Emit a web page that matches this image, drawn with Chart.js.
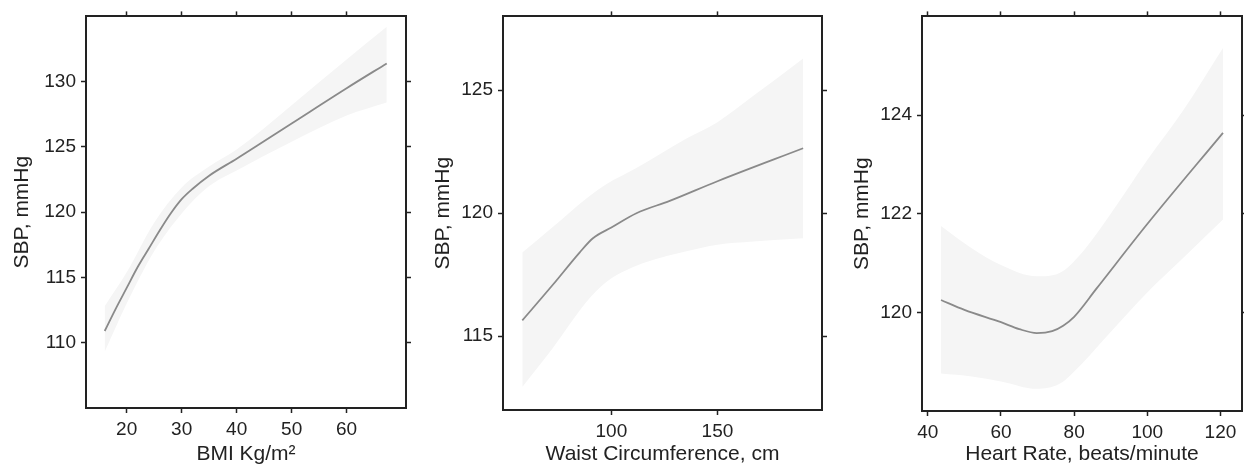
<!DOCTYPE html>
<html>
<head>
<meta charset="utf-8">
<script src="https://cdn.jsdelivr.net/npm/chart.js@4/dist/chart.umd.min.js"></script>
<style>
  body { margin: 0; background: #fff; width: 1244px; height: 472px; overflow: hidden; position: relative; }
  .panel { position: absolute; top: 0; height: 472px; }
</style>
</head>
<body>
<div class="panel" style="left:0;width:420px"><canvas id="bmi-chart"></canvas></div>
<div class="panel" style="left:420px;width:420px"><canvas id="waist-chart"></canvas></div>
<div class="panel" style="left:840px;width:404px"><canvas id="hr-chart"></canvas></div>
<script>
// BMI panel
const bmiX = [16, 18, 20, 22, 24, 26, 28, 30, 32, 35, 40, 50, 60, 67.3];
const bmiFit = [110.9, 112.6, 114.2, 115.8, 117.2, 118.6, 119.9, 121.0, 121.8, 122.8, 124.1, 126.8, 129.5, 131.4];
const bmiBandX = [16, 20, 25, 30, 35, 40, 50, 60, 67.3];
const bmiUpper = [112.8, 115.4, 119.2, 121.9, 123.5, 124.8, 128.2, 131.7, 134.2];
const bmiLower = [109.3, 113.0, 117.0, 119.9, 122.0, 123.2, 125.4, 127.4, 128.4];
const bmiXTicks = [20, 30, 40, 50, 60];
const bmiYTicks = [110, 115, 120, 125, 130];

// Waist panel
const waistX = [58, 72.5, 85, 91.3, 100, 111.8, 127.5, 150, 190.4];
const waistFit = [115.64, 117.1, 118.4, 118.98, 119.42, 120.0, 120.5, 121.3, 122.64];
const waistBandX = [58, 72.5, 88.2, 97.6, 111.8, 135.4, 150, 166.8, 190.4];
const waistUpper = [118.4, 119.45, 120.6, 121.18, 121.84, 123.04, 123.7, 124.76, 126.29];
const waistLower = [112.94, 114.53, 116.39, 117.2, 117.86, 118.45, 118.72, 118.85, 118.98];
const waistXTicks = [100, 150];
const waistYTicks = [115, 120, 125];

// Heart rate panel
const hrX = [43.6, 50, 60, 65, 69.8, 74, 77, 80, 86.1, 100, 120.7];
const hrFit = [120.25, 120.05, 119.8, 119.66, 119.58, 119.62, 119.73, 119.91, 120.48, 121.79, 123.64];
const hrBandX = [43.6, 52, 60, 69.8, 76, 82, 90, 100, 109.8, 120.7];
const hrUpper = [121.75, 121.3, 120.96, 120.73, 120.8, 121.2, 122.0, 123.09, 124.09, 125.36];
const hrLower = [118.76, 118.7, 118.6, 118.45, 118.55, 118.95, 119.6, 120.4, 121.1, 121.88];
const hrXTicks = [40, 60, 80, 100, 120];
const hrYTicks = [120, 122, 124];

const ink = "#222222";

function points(xs, ys) {
  return xs.map((x, i) => ({ x: x, y: ys[i] }));
}

// one axis; labels only on bottom/left, tick marks outside on all four sides
function axis(position, min, max, tickValues, size, showLabels, title, titlePad) {
  return {
    type: "linear",
    position: position,
    min: min,
    max: max,
    afterBuildTicks: (scale) => {
      scale.ticks = tickValues.map((v) => ({ value: v }));
    },
    afterFit: (scale) => {
      if (position === "left" || position === "right") scale.width = size;
      else scale.height = size;
    },
    border: { display: true, color: ink, width: 2 },
    grid: {
      drawOnChartArea: false,
      drawTicks: true,
      tickLength: 5,
      tickWidth: 1.5,
      tickColor: ink,
    },
    ticks: {
      display: showLabels,
      color: ink,
      padding: 5,
      font: { family: "Liberation Sans, Arial", size: 19 },
    },
    title: {
      display: !!title,
      text: title || "",
      color: ink,
      font: { family: "Liberation Sans, Arial", size: 21 },
      padding: titlePad || 0,
    },
  };
}

function createPanel(id, cfg) {
  const ctx = document.getElementById(id);
  return new Chart(ctx, {
    type: "line",
    data: {
      datasets: [
        {
          // fitted curve first so it is drawn over the band
          data: points(cfg.x, cfg.fit),
          borderColor: "#8a8a8a",
          borderWidth: 1.8,
          pointRadius: 0,
          cubicInterpolationMode: "monotone",
          fill: false,
        },
        {
          data: points(cfg.bandX, cfg.upper),
          borderWidth: 0,
          pointRadius: 0,
          cubicInterpolationMode: "monotone",
          fill: false,
        },
        {
          data: points(cfg.bandX, cfg.lower),
          borderWidth: 0,
          pointRadius: 0,
          cubicInterpolationMode: "monotone",
          backgroundColor: "#f5f5f5",
          fill: "-1",
        },
      ],
    },
    options: {
      responsive: false,
      animation: false,
      layout: { padding: 0 },
      plugins: { legend: { display: false }, tooltip: { enabled: false } },
      scales: {
        x: axis("bottom", cfg.xMin, cfg.xMax, cfg.xTicks, cfg.bottom, true, cfg.xTitle, { top: 0, bottom: 5 }),
        x2: axis("top", cfg.xMin, cfg.xMax, cfg.xTicks, cfg.top, false),
        y: axis("left", cfg.yMin, cfg.yMax, cfg.yTicks, cfg.left, true, "SBP, mmHg", { top: cfg.titleLeft, bottom: 0 }),
        y2: axis("right", cfg.yMin, cfg.yMax, cfg.yTicks, cfg.right, false),
      },
    },
  });
}

function sizeCanvas(id, w) {
  const c = document.getElementById(id);
  c.width = w;
  c.height = 472;
  c.style.width = w + "px";
  c.style.height = "472px";
}

sizeCanvas("bmi-chart", 420);
sizeCanvas("waist-chart", 420);
sizeCanvas("hr-chart", 404);

const bmiChart = createPanel("bmi-chart", {
  x: bmiX, fit: bmiFit, bandX: bmiBandX, upper: bmiUpper, lower: bmiLower,
  xMin: 12.6, xMax: 70.8, yMin: 105, yMax: 135,
  xTicks: bmiXTicks, yTicks: bmiYTicks, xTitle: "BMI Kg/m²",
  left: 86, right: 14, top: 12, bottom: 64, titleLeft: 10,
});

const waistChart = createPanel("waist-chart", {
  x: waistX, fit: waistFit, bandX: waistBandX, upper: waistUpper, lower: waistLower,
  xMin: 48.9, xMax: 199.3, yMin: 112, yMax: 128,
  xTicks: waistXTicks, yTicks: waistYTicks, xTitle: "Waist Circumference, cm",
  left: 83, right: 18, top: 9, bottom: 62, titleLeft: 11,
});

const hrChart = createPanel("hr-chart", {
  x: hrX, fit: hrFit, bandX: hrBandX, upper: hrUpper, lower: hrLower,
  xMin: 38.4, xMax: 125.9, yMin: 118, yMax: 126,
  xTicks: hrXTicks, yTicks: hrYTicks, xTitle: "Heart Rate, beats/minute",
  left: 82, right: 2, top: 10, bottom: 61, titleLeft: 10,
});
</script>
</body>
</html>
